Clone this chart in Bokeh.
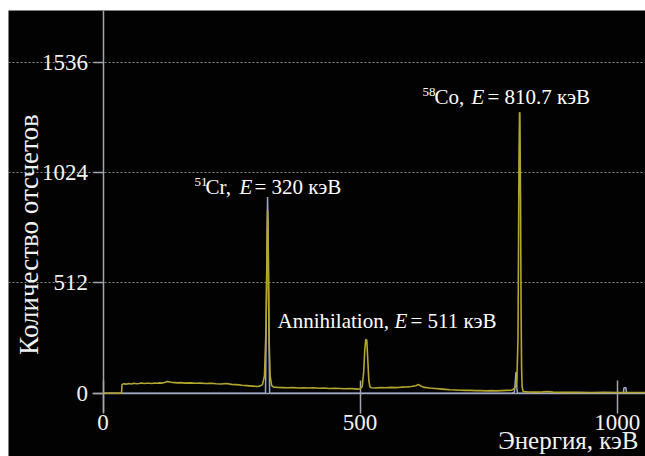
import math
from bokeh.plotting import figure
from bokeh.models import Label, FixedTicker
from bokeh.embed import file_html
from bokeh.resources import INLINE

# ---------------- data ----------------
energy_main = [0, 36, 37, 40, 45, 50, 55, 60, 65, 70, 75, 80, 85, 90, 95, 100, 105, 110,
               115, 120, 125, 130, 135, 140, 145, 150, 160, 170, 180, 190, 200, 210, 220,
               230, 240, 250, 260, 270, 280, 290, 300, 305, 310, 314, 317, 319, 320, 321,
               322, 323, 325, 328, 332, 340, 350, 360, 370, 380, 390, 400, 410, 420, 430,
               440, 450, 460, 470, 480, 490, 495, 500, 504, 507, 509, 511, 513, 515, 517,
               519, 522, 530, 540, 550, 560, 570, 580, 590, 600, 608, 614, 618, 625, 635,
               645, 655, 665, 675, 685, 695, 705, 715, 725, 735, 745, 755, 765, 775, 785,
               795, 800, 803, 805, 807, 808, 809, 810, 810.7, 812, 813, 814, 815, 817, 825,
               840, 855, 865, 875, 900, 925, 950, 975, 1000, 1013, 1030, 1055]
counts_main = [0, 0, 40, 44, 42, 45, 43, 46, 44, 45, 47, 45, 46, 46, 45, 47, 46, 48,
               47, 50, 54, 52, 50, 49, 48, 49, 47, 48, 46, 47, 45, 46, 44,
               43, 45, 41, 40, 37, 35, 33, 31, 33, 40, 80, 300, 700, 850, 780,
               500, 250, 80, 35, 28, 27, 26, 25, 26, 24, 25, 24, 25, 23, 24,
               22, 23, 22, 21, 22, 20, 19, 21, 30, 100, 200, 250, 245, 150, 60,
               30, 25, 24, 26, 25, 27, 26, 28, 29, 31, 35, 40, 33, 27, 24,
               22, 20, 18, 16, 15, 14, 13, 13, 12, 12, 11, 12, 11, 12, 13,
               14, 22, 35, 70, 250, 650, 1100, 1300, 1304, 900, 400, 120, 30, 8, 6,
               5, 6, 8, 5, 4, 4, 3, 4, 3, 3, 3, 3]

energy_second = [0, 316, 319, 320, 321, 322, 324, 795, 800, 802, 803,
                 804, 805, 806, 1012, 1013, 1017, 1018, 1055]
counts_second = [0, 0, 690, 910, 760, 480, 0, 0, 5, 60, 97,
                 95, 20, 0, 0, 25, 25, 0, 0]

x_ticks = [0, 500, 1000]
y_ticks = [0, 512, 1024, 1536]
grid_ticks = [512, 1024, 1536]

# ---------------- layout ----------------
W, H = 645, 456
ML, MT = 8, 10
FW, FH = W - ML, H - MT
X0, X1 = -183.8, 1055.0
Y0, Y1 = -293.7, 1775.9
SHIFT = 6  # rendered baseline sits this many px lower than requested


def dx(px):
    return X0 + (px - ML) / FW * (X1 - X0)


def dy(py):
    return Y1 - (py - MT) / FH * (Y1 - Y0)


p = figure(width=W, height=H, x_range=(X0, X1), y_range=(Y0, Y1),
           output_backend="svg", toolbar_location=None,
           min_border_left=ML, min_border_top=MT, min_border_right=0, min_border_bottom=0,
           background_fill_color="#020202", border_fill_color="white",
           outline_line_color=None)

AX = "#a2a5ad"
FONT = "Liberation Serif"

for ax in (p.xaxis[0], p.yaxis[0]):
    ax.fixed_location = 0
    ax.axis_line_color = AX
    ax.axis_line_width = 1.5
    ax.major_tick_line_color = AX
    ax.major_tick_line_width = 1.5
    ax.minor_tick_line_color = None
    ax.major_label_text_font = FONT
    ax.major_label_text_font_size = "23px"
    ax.major_label_text_color = "#f2f2f2"

p.xaxis.ticker = FixedTicker(ticks=x_ticks)
p.yaxis.ticker = FixedTicker(ticks=y_ticks)
p.xaxis.bounds = (-20, X1)
p.yaxis.bounds = (-90, Y1)
p.xaxis.major_tick_in = 13
p.xaxis.major_tick_out = 20
p.xaxis.major_label_standoff = 2
p.yaxis.major_tick_in = 0
p.yaxis.major_tick_out = 10
p.yaxis.major_label_standoff = 5

p.xgrid.visible = False
p.ygrid.ticker = FixedTicker(ticks=grid_ticks)
p.ygrid.grid_line_color = "#8c8c8c"
p.ygrid.grid_line_dash = "2 2"
p.ygrid.grid_line_width = 1
p.ygrid.bounds = (0, X1)

p.line(energy_second, counts_second, line_color="#9ea8c6", line_width=1.5, level="overlay")
p.line(energy_main, counts_main, line_color="#b3a62f", line_width=1.6, level="overlay")


def lab(px, py, text, size="21px", style="normal", **kw):
    p.add_layout(Label(x=dx(px), y=dy(py - SHIFT), text=text, text_font=FONT,
                       text_font_size=size, text_font_style=style,
                       text_color="white", text_baseline="alphabetic",
                       text_align="left", **kw))


# 51Cr
lab(194, 187, "51", size="13px")
lab(205, 192.5, "Cr,")
lab(239, 192.5, "E", style="italic")
lab(254, 192.5, "= 320 кэВ")
# Annihilation
lab(277, 326, "Annihilation,")
lab(394, 326, "E", style="italic")
lab(410, 326, "= 511 кэВ")
# 58Co
lab(422, 97.5, "58", size="13px")
lab(434, 102.5, "Co,")
lab(471, 102.5, "E", style="italic")
lab(487, 102.5, "= 810.7 кэВ")

# axis titles
p.add_layout(Label(x=dx(638), y=dy(446 - SHIFT), text="Энергия, кэВ", text_font=FONT,
                   text_font_size="25px", text_color="#f2f2f2",
                   text_align="right", text_baseline="alphabetic"))
p.add_layout(Label(x=dx(28), y=dy(234), text="Количество отсчетов", text_font=FONT,
                   text_font_size="27px", text_color="#f2f2f2", angle=math.pi / 2,
                   text_align="center", text_baseline="middle"))

open("out.html", "w").write(file_html(p, INLINE))
